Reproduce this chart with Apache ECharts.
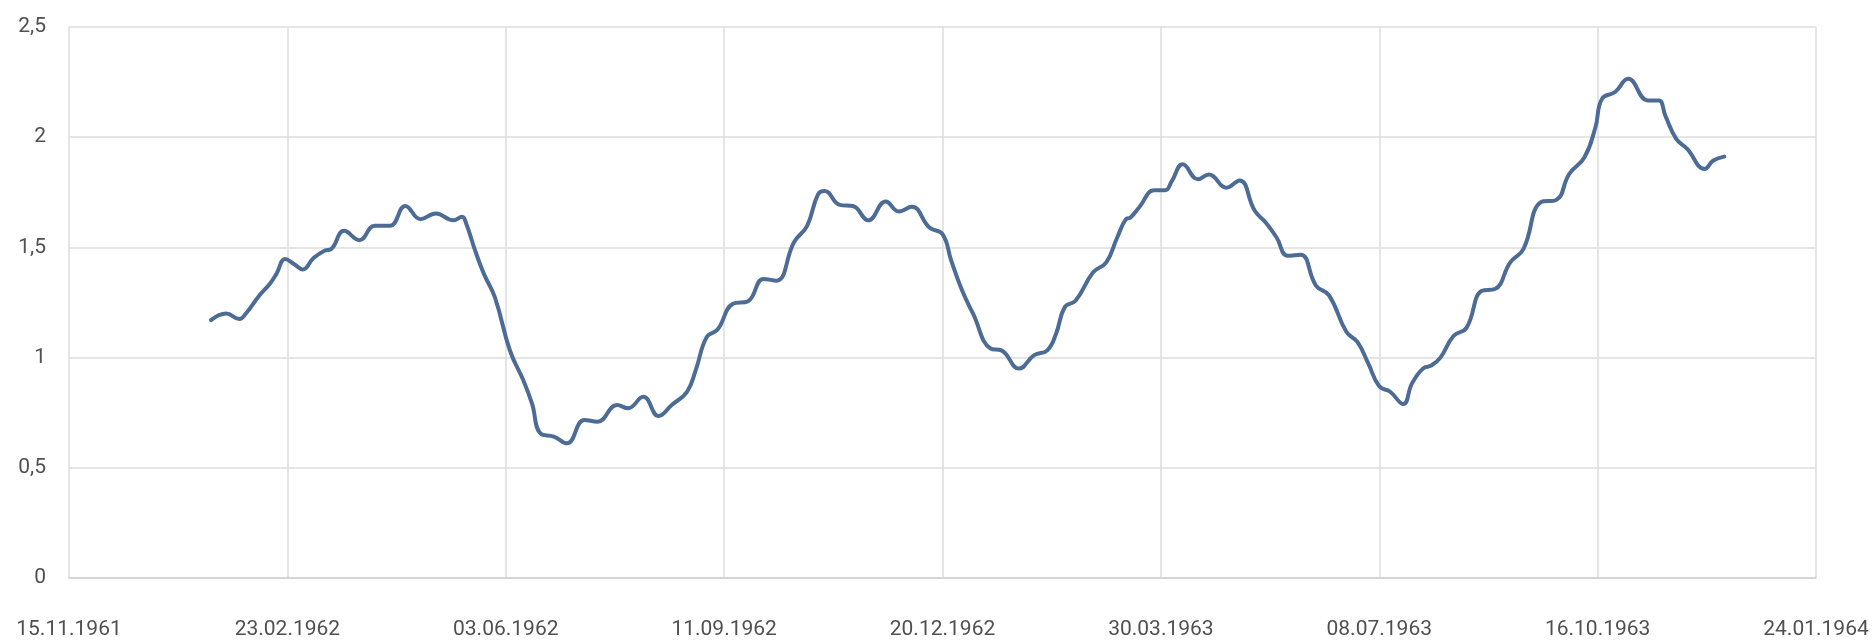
<!DOCTYPE html>
<html>
<head>
<meta charset="utf-8">
<title>chart</title>
<script src="https://cdn.jsdelivr.net/npm/echarts@6/dist/echarts.min.js"></script>
<style>
  html, body { margin: 0; padding: 0; background: #fff; }
  #main { width: 1873px; height: 640px; }
</style>
</head>
<body>
<div id="main"></div>
<script>
// days counted from 15.11.1961 (x axis origin)
var startDate = Date.UTC(1961, 10, 15);
var days = [
  65, 72, 78, 81, 87, 92, 95, 99, 103, 107, 112, 117, 120, 126, 133, 140, 147, 154, 161, 168,
  176, 180, 182, 186, 190, 195, 202, 208, 212, 216, 222, 228, 236, 242, 251, 256, 263, 270, 276, 283,
  287, 292, 297, 304, 311, 318, 324, 332, 338, 343, 346, 353, 359, 366, 374, 380, 386, 394, 400, 404,
  409, 414, 422, 427, 435, 442, 448, 452, 456, 461, 469, 475, 480, 484, 486, 490, 497, 502, 505, 510,
  517, 522, 530, 536, 543, 548, 553, 558, 564, 571, 577, 585, 590, 595, 600, 605, 611, 615, 620, 624,
  628, 634, 640, 647, 653, 660, 666, 674, 681, 687, 694, 699, 702, 708, 714, 723, 728, 731, 736, 741,
  749, 753, 758
];
var values = [
  1.17, 1.20, 1.175, 1.20, 1.28, 1.335, 1.38, 1.447, 1.425, 1.40, 1.452, 1.485, 1.492, 1.575, 1.533, 1.598, 1.598, 1.688, 1.628, 1.654,
  1.623, 1.639, 1.605, 1.485, 1.38, 1.274, 1.03, 0.898, 0.792, 0.655, 0.642, 0.611, 0.717, 0.709, 0.785, 0.770, 0.822, 0.735, 0.785, 0.845,
  0.943, 1.093, 1.127, 1.244, 1.256, 1.357, 1.349, 1.523, 1.598, 1.741, 1.756, 1.693, 1.688, 1.623, 1.708, 1.663, 1.684, 1.59, 1.56, 1.44,
  1.304, 1.199, 1.041, 1.033, 0.950, 1.011, 1.033, 1.108, 1.229, 1.259, 1.387, 1.432, 1.545, 1.628, 1.635, 1.681, 1.759, 1.759, 1.801, 1.877,
  1.809, 1.831, 1.771, 1.804, 1.666, 1.613, 1.545, 1.462, 1.467, 1.327, 1.282, 1.116, 1.071, 0.973, 0.870, 0.845, 0.789, 0.883, 0.950, 0.965,
  1.0, 1.098, 1.136, 1.303, 1.311, 1.432, 1.492, 1.705, 1.715, 1.833, 1.909, 2.045, 2.174, 2.205, 2.265, 2.167, 2.167, 2.098, 1.992, 1.947,
  1.856, 1.894, 1.912
];
var yTicks = ['0', '0,5', '1', '1,5', '2', '2,5'];

var labelFont = 'Roboto, "Liberation Sans", sans-serif';

function pad2(n) { return n < 10 ? '0' + n : '' + n; }
function dayLabel(d) {
  var dt = new Date(startDate + d * 86400000);
  return pad2(dt.getUTCDate()) + '.' + pad2(dt.getUTCMonth() + 1) + '.' + dt.getUTCFullYear();
}

var seriesData = [];
for (var i = 0; i < days.length; i++) {
  seriesData.push([days[i], values[i]]);
}

var chart = echarts.init(document.getElementById('main'), null, { renderer: 'canvas' });
var option = {
  backgroundColor: '#ffffff',
  animation: false,
  grid: { left: 69, right: 57, top: 27, bottom: 62 },
  xAxis: {
    type: 'value',
    min: 0,
    max: 800,
    interval: 100,
    axisLine: { show: true, lineStyle: { color: '#d0d0d0', width: 1.5 } },
    axisTick: { show: false },
    axisLabel: {
      margin: 41,
      color: '#505050',
      fontSize: 21,
      fontFamily: labelFont,
      formatter: function (v) { return dayLabel(v); }
    },
    splitLine: { show: true, lineStyle: { color: '#dcdcdc', width: 1.5 } }
  },
  yAxis: {
    type: 'value',
    min: 0,
    max: 2.5,
    interval: 0.5,
    axisLine: { show: false },
    axisTick: { show: false },
    axisLabel: {
      margin: 23,
      color: '#505050',
      fontSize: 21,
      fontFamily: labelFont,
      formatter: function (v) { return yTicks[Math.round(v * 2)]; }
    },
    splitLine: { show: true, lineStyle: { color: '#dcdcdc', width: 1.5 } }
  },
  series: [{
    type: 'line',
    data: seriesData,
    smooth: 0.45,
    showSymbol: false,
    lineStyle: { color: '#4d6c95', width: 4, cap: 'round', join: 'round' },
    itemStyle: { color: '#4d6c95' }
  }]
};
chart.setOption(option);
</script>
</body>
</html>
